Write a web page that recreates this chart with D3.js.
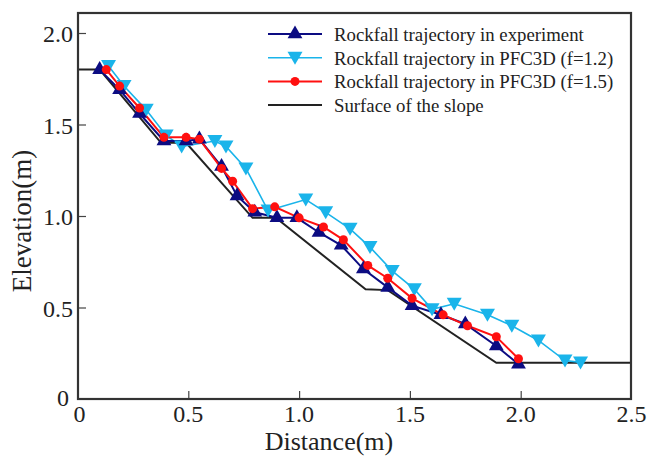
<!DOCTYPE html>
<html>
<head>
<meta charset="UTF-8">
<title>Rockfall trajectory</title>
<script src="https://cdn.jsdelivr.net/npm/d3@7"></script>
<style>
    body { margin: 0; background: #fff; }
    text { font-family: "Liberation Serif", "Times New Roman", serif; fill: #222; }
</style>
</head>
<body>
<div id="chart"></div>
<script>
    // 实验轨迹 [distance, elevation]
    var experiment = [
        [0.10, 1.80], [0.19, 1.69], [0.28, 1.56], [0.39, 1.41], [0.49, 1.41],
        [0.55, 1.42], [0.65, 1.27], [0.72, 1.11], [0.80, 1.02], [0.90, 0.99],
        [0.99, 0.99], [1.09, 0.91], [1.19, 0.84], [1.29, 0.71], [1.40, 0.61],
        [1.51, 0.51], [1.64, 0.46], [1.75, 0.41], [1.89, 0.29], [1.99, 0.19]
    ];
    // PFC3D f=1.2
    var pfc12 = [
        [0.14, 1.82], [0.21, 1.71], [0.31, 1.58], [0.40, 1.44], [0.47, 1.38],
        [0.62, 1.41], [0.67, 1.38], [0.76, 1.26], [0.86, 1.03], [1.03, 1.09],
        [1.12, 1.02], [1.23, 0.93], [1.32, 0.83], [1.42, 0.70], [1.52, 0.60],
        [1.60, 0.49], [1.70, 0.52], [1.85, 0.46], [1.96, 0.40], [2.08, 0.32],
        [2.20, 0.21], [2.27, 0.20]
    ];
    // PFC3D f=1.5
    var pfc15 = [
        [0.13, 1.80], [0.19, 1.71], [0.28, 1.59], [0.39, 1.43], [0.49, 1.43],
        [0.55, 1.42], [0.65, 1.26], [0.70, 1.19], [0.79, 1.04], [0.89, 1.05],
        [1.00, 0.99], [1.11, 0.94], [1.20, 0.87], [1.31, 0.73], [1.40, 0.66],
        [1.51, 0.55], [1.65, 0.46], [1.76, 0.40], [1.89, 0.34], [1.99, 0.22]
    ];
    // 坡面
    var slope = [
        [0, 1.80], [0.10, 1.80], [0.377, 1.40], [0.49, 1.40], [0.79, 0.99],
        [0.895, 0.99], [1.30, 0.60], [1.40, 0.595], [1.89, 0.198], [2.5, 0.198]
    ];
    var xTicks = [0, 0.5, 1.0, 1.5, 2.0, 2.5];
    var xTickLabels = ["0", "0.5", "1.0", "1.5", "2.0", "2.5"];
    var yTicks = [0.5, 1.0, 1.5, 2.0];
    var yTickLabels = ["0.5", "1.0", "1.5", "2.0"];
    var legendNames = [
        "Rockfall trajectory in experiment",
        "Rockfall trajectory in PFC3D (f=1.2)",
        "Rockfall trajectory in PFC3D (f=1.5)",
        "Surface of the slope"
    ];

    var width = 648, height = 459;
    // 注意: top 是 window 的只读属性, 不能用作变量名
    var boxL = 78, boxR = 631, boxT = 13, boxB = 399;

    var svg = d3.select("#chart").append("svg")
        .attr("width", width)
        .attr("height", height);

    var x = d3.scaleLinear().domain([0, 2.5]).range([77.5, 631.5]);
    var y = d3.scaleLinear().domain([0, 2.0]).range([399, 33]);

    var line = d3.line()
        .x(function (d) { return x(d[0]); })
        .y(function (d) { return y(d[1]); });

    // 坐标轴 (刻度向内)
    var xAxis = d3.axisTop(x).tickValues(xTicks.slice(1, 5)).tickSize(8).tickFormat("");
    svg.append("g").attr("transform", "translate(0," + boxB + ")").call(xAxis)
        .call(function (g) { g.select(".domain").remove(); })
        .selectAll("line").attr("stroke", "#444").attr("stroke-width", 1.2);

    var yAxis = d3.axisRight(y).tickValues(yTicks).tickSize(8).tickFormat("");
    svg.append("g").attr("transform", "translate(" + boxL + ",0)").call(yAxis)
        .call(function (g) { g.select(".domain").remove(); })
        .selectAll("line").attr("stroke", "#444").attr("stroke-width", 1.2);

    // 刻度文字
    svg.append("g").selectAll("text")
        .data(xTicks)
        .enter().append("text")
        .attr("x", function (d) { return x(d) + (d === 0 ? 2 : 0); })
        .attr("y", 422)
        .attr("text-anchor", "middle")
        .attr("font-size", "24px")
        .text(function (d, i) { return xTickLabels[i]; });

    svg.append("g").selectAll("text")
        .data(yTicks)
        .enter().append("text")
        .attr("x", 73)
        .attr("y", function (d) { return y(d) + 9; })
        .attr("text-anchor", "end")
        .attr("font-size", "24px")
        .text(function (d, i) { return yTickLabels[i]; });

    svg.append("text")
        .attr("x", 69).attr("y", 406)
        .attr("text-anchor", "end")
        .attr("font-size", "24px")
        .text("0");

    // 轴标题
    svg.append("text")
        .attr("x", 329).attr("y", 450)
        .attr("text-anchor", "middle")
        .attr("font-size", "26px")
        .text("Distance(m)");

    svg.append("text")
        .attr("transform", "translate(31,221) rotate(-90)")
        .attr("text-anchor", "middle")
        .attr("font-size", "27px")
        .text("Elevation(m)");

    // 数据线
    var plot = svg.append("g");

    plot.append("path").datum(slope)
        .attr("d", line).attr("fill", "none")
        .attr("stroke", "#222").attr("stroke-width", 2);

    plot.append("path").datum(pfc12)
        .attr("d", line).attr("fill", "none")
        .attr("stroke", "#1ab4ea").attr("stroke-width", 1.6);

    plot.append("path").datum(experiment)
        .attr("d", line).attr("fill", "none")
        .attr("stroke", "#0c0c82").attr("stroke-width", 2);

    plot.append("path").datum(pfc15)
        .attr("d", line).attr("fill", "none")
        .attr("stroke", "#ff1010").attr("stroke-width", 2);

    var triUp = d3.symbol().type(d3.symbolTriangle).size(95);
    var triDown = "M-7.5,-6L7.5,-6L0,7Z";

    plot.append("g").selectAll("path")
        .data(pfc12)
        .enter().append("path")
        .attr("d", triDown)
        .attr("transform", function (d) { return "translate(" + x(d[0]) + "," + y(d[1]) + ")"; })
        .attr("fill", "#1ab4ea");

    plot.append("g").selectAll("path")
        .data(experiment)
        .enter().append("path")
        .attr("d", triUp)
        .attr("transform", function (d) { return "translate(" + x(d[0]) + "," + y(d[1]) + ")"; })
        .attr("fill", "#0c0c82");

    plot.append("g").selectAll("circle")
        .data(pfc15)
        .enter().append("circle")
        .attr("cx", function (d) { return x(d[0]); })
        .attr("cy", function (d) { return y(d[1]); })
        .attr("r", 4.5)
        .attr("fill", "#ff1010");

    // 图例
    var legColors = ["#0c0c82", "#1ab4ea", "#ff1010", "#222"];
    var legend = svg.append("g");
    legendNames.forEach(function (name, i) {
        var ly = 34 + i * 23.7;
        legend.append("line")
            .attr("x1", 268).attr("x2", 322)
            .attr("y1", ly).attr("y2", ly)
            .attr("stroke", legColors[i])
            .attr("stroke-width", i === 1 ? 1.6 : 2);
        var mk;
        if (i === 0) {
            mk = legend.append("path").attr("d", triUp);
        } else if (i === 1) {
            mk = legend.append("path").attr("d", triDown);
        } else if (i === 2) {
            mk = legend.append("circle").attr("r", 4.5);
        }
        if (mk) {
            mk.attr("transform", "translate(295," + ly + ")").attr("fill", legColors[i]);
        }
        legend.append("text")
            .attr("x", 334).attr("y", ly + 7)
            .attr("font-size", "18.8px")
            .text(name);
    });

    // 边框
    svg.append("rect")
        .attr("x", boxL).attr("y", boxT)
        .attr("width", boxR - boxL).attr("height", boxB - boxT)
        .attr("fill", "none")
        .attr("stroke", "#333")
        .attr("stroke-width", 2.2);
</script>
</body>
</html>
